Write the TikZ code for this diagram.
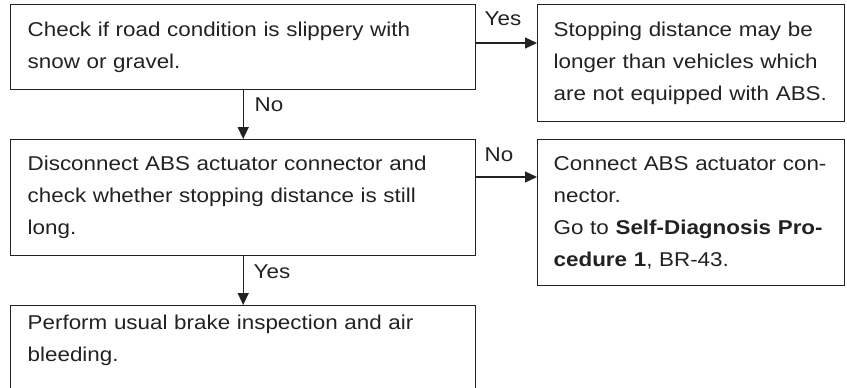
\documentclass[tikz,border=0pt]{standalone}
\usepackage{fontspec}
\setmainfont[FakeStretch=1.12]{Liberation Sans}
\usetikzlibrary{arrows.meta}
\definecolor{ink}{HTML}{222222}
\begin{document}
\begin{tikzpicture}[x=1pt,y=-1pt,
  box/.style={draw=ink, line width=1.4pt, rectangle, anchor=north west,
    inner xsep=0pt, inner ysep=0pt, align=left,
    font=\fontsize{20}{32}\selectfont, text=ink},
  arr/.style={draw=ink, line width=1.3pt, -{Triangle[length=12pt,width=11pt]}},
  lbl/.style={font=\fontsize{20}{24}\selectfont, text=ink, inner sep=0pt}]
\path[use as bounding box, fill=white] (0,0) rectangle (847,388);

\node[box, minimum width=465pt, minimum height=85pt, text width=431pt] (b1) at (10,4)
  {Check if road condition is slippery with\\snow or gravel.};
\node[box, minimum width=307pt, minimum height=117pt, text width=275pt] (b2) at (537,4)
  {Stopping distance may be\\longer than vehicles which\\are not equipped with ABS.};
\node[box, minimum width=465pt, minimum height=116pt, text width=431pt] (b3) at (10,139)
  {Disconnect ABS actuator connector and\\check whether stopping distance is still\\long.};
\node[box, minimum width=307pt, minimum height=146pt, text width=275pt] (b4) at (537,139)
  {\makebox[275pt][s]{Connect ABS actuator con-}\\nector.\\\makebox[275pt][s]{Go to \textbf{Self-Diagnosis Pro-}}\\\textbf{cedure 1}, BR-43.};
\node[box, minimum width=465pt, text width=431pt, inner ysep=9pt, text depth=60pt] (b5) at (10,305)
  {Perform usual brake inspection and air\\bleeding.};

\coordinate (h1) at (0,43);
\coordinate (h2) at (0,177);
\draw[arr] (b1) -- (b3);
\draw[arr] (b3) -- (b5);
\draw[arr] (b1.east |- h1) -- (b2.west |- h1);
\draw[arr] (b3.east |- h2) -- (b4.west |- h2);

\node[lbl] (l1) at (269,105) {No};
\node[lbl] (l2) at (272,272) {Yes};
\node[lbl] (l3) at (503,19) {Yes};
\node[lbl] (l4) at (499,155) {No};
\end{tikzpicture}
\end{document}
